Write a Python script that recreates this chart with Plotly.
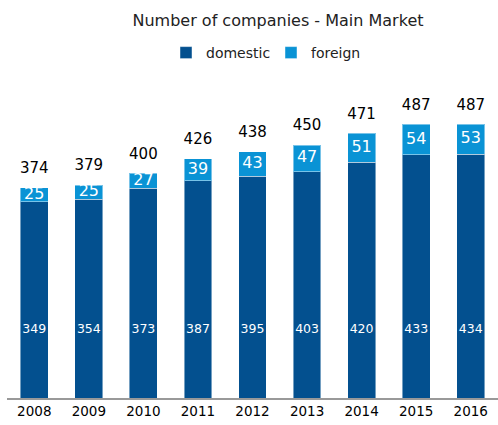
import plotly.graph_objects as go

years = ["2008", "2009", "2010", "2011", "2012", "2013", "2014", "2015", "2016"]
domestic = [349, 354, 373, 387, 395, 403, 420, 433, 434]
foreign = [25, 25, 27, 39, 43, 47, 51, 54, 53]
totals = [374, 379, 400, 426, 438, 450, 471, 487, 487]

DOM = "#03508f"
FOR = "#0a93d5"
FONT = "DejaVu Sans, Verdana, sans-serif"
EDGE = dict(color="rgba(255,255,255,0.45)", width=1)

fig = go.Figure()
fig.add_trace(go.Bar(x=years, y=domestic, name="domestic", marker=dict(color=DOM, line=EDGE)))
fig.add_trace(go.Bar(x=years, y=foreign, name="foreign", marker=dict(color=FOR, line=EDGE)))

# domestic labels (fixed height inside the dark bar)
fig.add_trace(go.Scatter(x=years, y=[121] * len(years), text=[str(v) for v in domestic],
                         mode="text", textposition="middle center", showlegend=False, hoverinfo="skip",
                         textfont=dict(color="white", size=12.5, family=FONT)))
# foreign labels (middle of the light segment)
fig.add_trace(go.Scatter(x=years, y=[d + f / 2 for d, f in zip(domestic, foreign)],
                         text=[str(v) for v in foreign], mode="text", textposition="middle center",
                         showlegend=False, hoverinfo="skip",
                         textfont=dict(color="white", size=16, family=FONT)))
# totals above the bars (invisible marker pushes the text up)
fig.add_trace(go.Scatter(x=years, y=totals, text=[str(v) for v in totals], mode="markers+text",
                         marker=dict(size=16, color="rgba(0,0,0,0)"),
                         textposition="top center", showlegend=False, hoverinfo="skip",
                         textfont=dict(color="black", size=15, family=FONT), cliponaxis=False))

fig.update_layout(
    width=498, height=425,
    barmode="stack", bargap=0.49,
    plot_bgcolor="white", paper_bgcolor="white",
    margin=dict(l=7, r=0, t=89, b=27),
    font=dict(family=FONT, color="black"),
    title=dict(text="Number of companies - Main Market", x=278 / 498, xanchor="center",
               y=1 - 20 / 425, yanchor="middle", font=dict(size=16, family=FONT, color="#222")),
    legend=dict(orientation="h", x=166 / 498, xanchor="left", y=1 - 53 / 425, yanchor="middle",
                xref="container", yref="container", font=dict(size=14, family=FONT, color="#222"),
                itemwidth=30, entrywidth=60, traceorder="normal", itemclick=False),
    showlegend=True,
)
fig.update_xaxes(type="category", showline=True, linecolor="#999", linewidth=2, ticks="",
                 tickfont=dict(size=13.5, family=FONT), range=[-0.5, 8.5], automargin=False)
fig.update_yaxes(visible=False, range=[0, 550], showgrid=False)

fig.write_html("out.html", config={"displayModeBar": False},
               post_script="document.body.style.margin='0';document.body.style.overflow='hidden';")
